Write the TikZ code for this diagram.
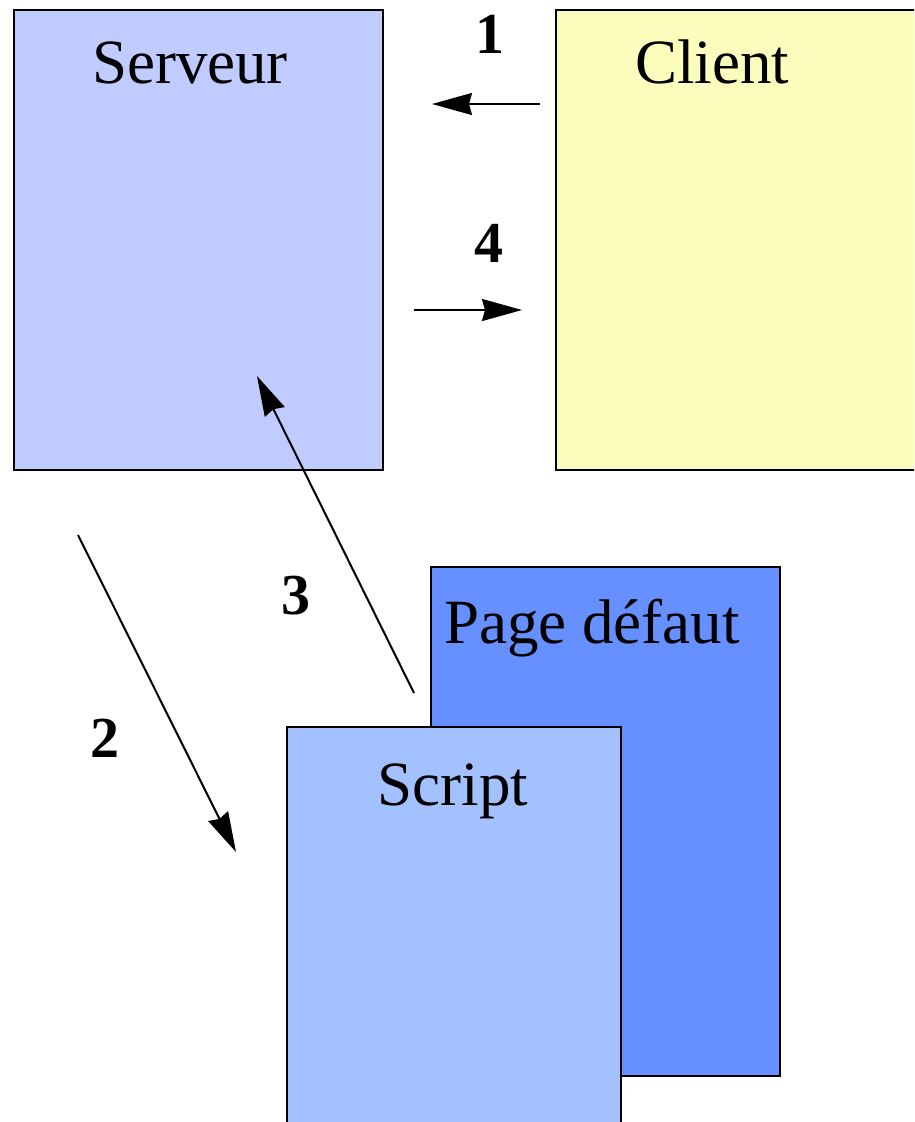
\documentclass[tikz,border=0pt]{standalone}
\usepackage{fontspec}
\setmainfont{Liberation Serif}
\usetikzlibrary{arrows.meta}
\definecolor{servcol}{RGB}{192,204,255}
\definecolor{clientcol}{RGB}{252,252,188}
\definecolor{pagecol}{RGB}{102,144,255}
\definecolor{scriptcol}{RGB}{163,192,255}
\tikzset{
  box/.style={draw=black, line width=2pt, anchor=north west, inner sep=0pt},
  title/.style={anchor=base, inner sep=0pt, font=\fontsize{63}{70}\selectfont},
  num/.style={anchor=base, inner sep=0pt, font=\fontsize{58}{64}\selectfont\bfseries},
  flow/.style={line width=2pt, -{Stealth[length=40pt,width=22pt,inset=3pt]}}
}
\begin{document}
\begin{tikzpicture}[x=1pt,y=-1pt]
\useasboundingbox (0,0) rectangle (914,1122);
\clip (0,0) rectangle (914,1122);
% server and client
\node[box, fill=servcol, minimum width=369pt, minimum height=460pt] (serveur) at (13,9) {};
\node[box, fill=clientcol, minimum width=370pt, minimum height=460pt] (client) at (555,9) {};
\node[title] (serveurtxt) at (190,83) {Serveur};
\node[title] (clienttxt) at (712,83) {Client};
% default page and script
\node[box, fill=pagecol, minimum width=349pt, minimum height=509pt] (page) at (430,566) {};
\node[title] (pagetxt) at (592,643) {Page défaut};
\node[box, fill=scriptcol, minimum width=334pt, minimum height=420pt] (script) at (286,726) {};
\node[title] (scripttxt) at (453,805) {Script};
% arrow end points
\coordinate (a1s) at (540,104);
\coordinate (a1e) at (432,104);
\coordinate (a4s) at (414,310);
\coordinate (a4e) at (522,310);
\coordinate (a2s) at (78,535);
\coordinate (a2e) at (236,852);
\coordinate (a3s) at (414,693);
\coordinate (a3e) at (257,376);
\draw[flow] (a1s) -- (a1e);
\draw[flow] (a4s) -- (a4e);
\draw[flow] (a2s) -- (a2e);
\draw[flow] (a3s) -- (a3e);
% step numbers
\node[num] (n1) at (490,53) {1};
\node[num] (n4) at (489,262) {4};
\node[num] (n2) at (105,757) {2};
\node[num] (n3) at (296,614) {3};
\end{tikzpicture}
\end{document}
